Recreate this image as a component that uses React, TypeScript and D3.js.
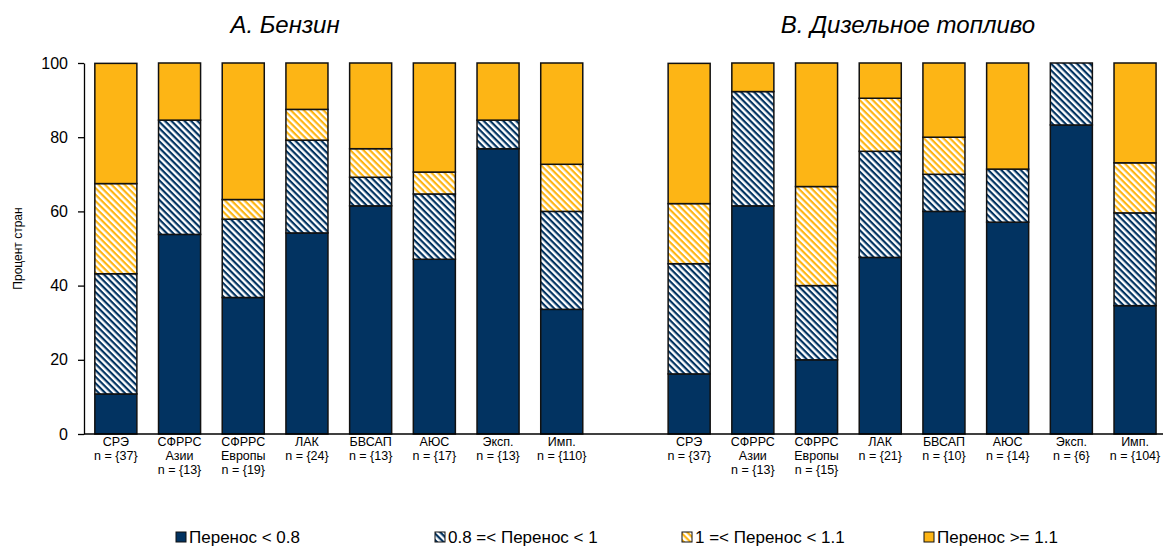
import * as d3 from "d3";
import { useEffect, useRef } from "react";

// panel A: Бензин
const petrolCats = [
  ["СРЭ", "n = {37}"],
  ["СФРРС", "Азии", "n = {13}"],
  ["СФРРС", "Европы", "n = {19}"],
  ["ЛАК", "n = {24}"],
  ["БВСАП", "n = {13}"],
  ["АЮС", "n = {17}"],
  ["Эксп.", "n = {13}"],
  ["Имп.", "n = {110}"],
];
const petrolLow = [10.8, 53.8, 36.8, 54.2, 61.5, 47.1, 76.9, 33.6];
const petrolMid = [32.4, 30.8, 21.1, 25.0, 7.7, 17.6, 7.7, 26.4];
const petrolNear = [24.3, 0, 5.3, 8.3, 7.7, 5.9, 0, 12.7];
const petrolHigh = [32.4, 15.4, 36.8, 12.5, 23.1, 29.4, 15.4, 27.3];

// panel B: Дизельное топливо
const dieselCats = [
  ["СРЭ", "n = {37}"],
  ["СФРРС", "Азии", "n = {13}"],
  ["СФРРС", "Европы", "n = {15}"],
  ["ЛАК", "n = {21}"],
  ["БВСАП", "n = {10}"],
  ["АЮС", "n = {14}"],
  ["Эксп.", "n = {6}"],
  ["Имп.", "n = {104}"],
];
const dieselLow = [16.2, 61.5, 20.0, 47.6, 60.0, 57.1, 83.3, 34.6];
const dieselMid = [29.7, 30.8, 20.0, 28.6, 10.0, 14.3, 16.7, 25.0];
const dieselNear = [16.2, 0, 26.7, 14.3, 10.0, 0, 0, 13.5];
const dieselHigh = [37.8, 7.7, 33.3, 9.5, 20.0, 28.6, 0, 26.9];

const seriesKeys = ["low", "mid", "near", "high"];
const seriesNames = [
  "Перенос < 0.8",
  "0.8 =< Перенос < 1",
  "1 =< Перенос < 1.1",
  "Перенос >= 1.1",
];
const yTicks = [0, 20, 40, 60, 80, 100];
const panelTitles = ["A. Бензин", "B. Дизельное топливо"];

const NAVY = "#023361";
const GOLD = "#FDB515";

export default function App() {
  const ref = useRef<SVGSVGElement>(null);

  useEffect(() => {
    if (!ref.current) return;
    const width = 1163;
    const height = 546;
    const marginLeft = 84;
    const plotTop = 63;
    const plotBottom = 434;
    const font = "'Liberation Sans', Arial, sans-serif";

    const svg = d3.select(ref.current);
    svg.selectAll("*").remove();
    svg.attr("width", width).attr("height", height).attr("viewBox", [0, 0, width, height]);

    // hatch patterns
    const defs = svg.append("defs");
    const makeHatch = (id: string, color: string) => {
      const p = defs
        .append("pattern")
        .attr("id", id)
        .attr("patternUnits", "userSpaceOnUse")
        .attr("width", 4.6)
        .attr("height", 4.6)
        .attr("patternTransform", "rotate(45)");
      p.append("rect").attr("width", 4.6).attr("height", 4.6).attr("fill", "#fff");
      p.append("rect").attr("y", 0).attr("width", 4.6).attr("height", 2.2).attr("fill", color);
    };
    makeHatch("hatchNavy", NAVY);
    makeHatch("hatchGold", GOLD);
    const fills = [NAVY, "url(#hatchNavy)", "url(#hatchGold)", GOLD];

    // rows: 8 petrol, one gap, 8 diesel
    type Row = { id: string; lines: string[]; low: number; mid: number; near: number; high: number };
    const rows: Row[] = [];
    petrolCats.forEach((c, i) =>
      rows.push({ id: "p" + i, lines: c, low: petrolLow[i], mid: petrolMid[i], near: petrolNear[i], high: petrolHigh[i] }),
    );
    const gapId = "gap";
    dieselCats.forEach((c, i) =>
      rows.push({ id: "d" + i, lines: c, low: dieselLow[i], mid: dieselMid[i], near: dieselNear[i], high: dieselHigh[i] }),
    );
    const domain = [...rows.slice(0, 8).map((r) => r.id), gapId, ...rows.slice(8).map((r) => r.id)];

    const x = d3
      .scaleBand<string>()
      .domain(domain)
      .range([marginLeft, marginLeft + 17 * 63.7])
      .paddingInner(0.34)
      .paddingOuter(0.17);

    const y = d3.scaleLinear().domain([0, 100]).range([plotBottom, plotTop]);

    const stacked = d3.stack<Row>().keys(seriesKeys)(rows);

    svg
      .append("g")
      .selectAll("g")
      .data(stacked)
      .join("g")
      .attr("fill", (_, i) => fills[i])
      .selectAll("rect")
      .data((s) => s.filter((d) => d[1] - d[0] > 0))
      .join("rect")
      .attr("x", (d) => x(d.data.id)!)
      .attr("width", x.bandwidth())
      .attr("y", (d) => y(d[1]))
      .attr("height", (d) => y(d[0]) - y(d[1]))
      .attr("stroke", "#111")
      .attr("stroke-width", 1.5);

    // y axis
    svg
      .append("g")
      .attr("transform", `translate(${marginLeft},0)`)
      .call(d3.axisLeft(y).tickValues(yTicks).tickSize(6).tickSizeOuter(0).tickPadding(10))
      .call((g) => g.select(".domain").attr("stroke", "#000").attr("stroke-width", 1.3))
      .call((g) => g.selectAll("line").attr("stroke", "#000").attr("stroke-width", 1.3))
      .call((g) => g.selectAll("text").attr("font-size", 16).attr("font-family", font).attr("fill", "#000"));

    svg
      .append("text")
      .attr("transform", `translate(22, ${(plotTop + plotBottom) / 2}) rotate(-90)`)
      .attr("text-anchor", "middle")
      .attr("font-family", font)
      .attr("font-size", 12)
      .text("Процент стран");

    // x axis line
    svg
      .append("line")
      .attr("x1", marginLeft)
      .attr("x2", width)
      .attr("y1", plotBottom)
      .attr("y2", plotBottom)
      .attr("stroke", "#000")
      .attr("stroke-width", 1.3);

    // category labels
    const labels = svg
      .append("g")
      .attr("font-family", font)
      .attr("font-size", 12.5)
      .attr("text-anchor", "middle")
      .selectAll("text")
      .data(rows)
      .join("text")
      .attr("x", (d) => x(d.id)! + x.bandwidth() / 2)
      .attr("y", plotBottom + 12);
    labels
      .selectAll("tspan")
      .data((d) => d.lines.map((l) => ({ l, x: x(d.id)! + x.bandwidth() / 2 })))
      .join("tspan")
      .attr("x", (t) => t.x)
      .attr("dy", (_, i) => (i === 0 ? 0 : 14))
      .text((t) => t.l);

    // panel titles
    const titleX = [285, 908];
    svg
      .append("g")
      .selectAll("text")
      .data(panelTitles)
      .join("text")
      .attr("x", (_, i) => titleX[i])
      .attr("y", 33)
      .attr("text-anchor", "middle")
      .attr("font-family", font)
      .attr("font-style", "italic")
      .attr("font-size", 24)
      .text((d) => d);

    // legend
    const legendX = [176, 435, 682, 924];
    const legend = svg
      .append("g")
      .selectAll("g")
      .data(seriesNames)
      .join("g")
      .attr("transform", (_, i) => `translate(${legendX[i]}, 532)`);
    legend
      .append("rect")
      .attr("width", 10)
      .attr("height", 10)
      .attr("fill", (_, i) => fills[i])
      .attr("stroke", "#111")
      .attr("stroke-width", 1);
    legend
      .append("text")
      .attr("x", 13)
      .attr("y", 11)
      .attr("font-family", font)
      .attr("font-size", 17)
      .text((d) => d);
  }, []);

  return <svg ref={ref} style={{ position: "absolute", left: 0, top: 0 }} />;
}
